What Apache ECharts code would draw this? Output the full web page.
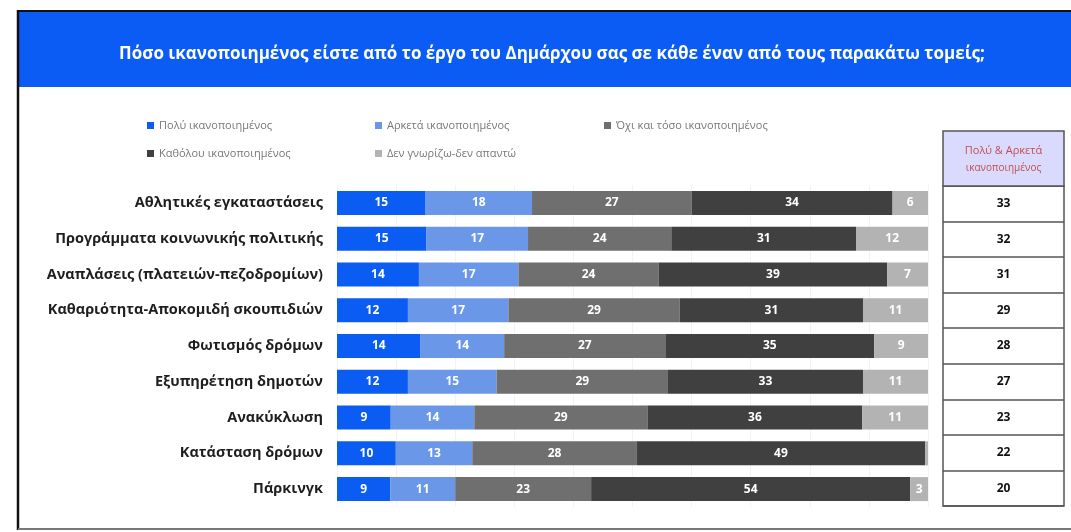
<!DOCTYPE html>
<html>
<head>
<meta charset="utf-8">
<script src="https://cdn.jsdelivr.net/npm/echarts@6/dist/echarts.min.js"></script>
<style>
html,body{margin:0;padding:0;background:#fff;}
#chart{width:1071px;height:532px;}
</style>
</head>
<body>
<div id="chart"></div>
<script>
const titleText = 'Πόσο ικανοποιημένος είστε από το έργο του Δημάρχου σας σε κάθε έναν από τους παρακάτω τομείς;';
const categories = [
  'Αθλητικές εγκαταστάσεις',
  'Προγράμματα κοινωνικής πολιτικής',
  'Αναπλάσεις (πλατειών-πεζοδρομίων)',
  'Καθαριότητα-Αποκομιδή σκουπιδιών',
  'Φωτισμός δρόμων',
  'Εξυπηρέτηση δημοτών',
  'Ανακύκλωση',
  'Κατάσταση δρόμων',
  'Πάρκινγκ'
];
const seriesNames = ['Πολύ ικανοποιημένος','Αρκετά ικανοποιημένος','Όχι και τόσο ικανοποιημένος','Καθόλου ικανοποιημένος','Δεν γνωρίζω-δεν απαντώ'];
const veryValues     = [15, 15, 14, 12, 14, 12, 9, 10, 9];
const quiteValues    = [18, 17, 17, 17, 14, 15, 14, 13, 11];
const notSoValues    = [27, 24, 24, 29, 27, 29, 29, 28, 23];
const notAtAllValues = [34, 31, 39, 31, 35, 33, 36, 49, 54];
const dkValues       = [6, 12, 7, 11, 9, 11, 11, 0.5, 3];
const combinedValues = [33, 32, 31, 29, 28, 27, 23, 22, 20];
const tableHeader = ['Πολύ & Αρκετά', 'ικανοποιημένος'];
const colors = ['#0B5CF2', '#6B97E9', '#6F6F6F', '#404040', '#B3B3B3'];

const chart = echarts.init(document.getElementById('chart'));
const FONT = 'Open Sans';
const seriesData = [veryValues, quiteValues, notSoValues, notAtAllValues, dkValues];
// rounded shares do not always add to 100; bars are drawn as shares of each row's total
const rowTotals = categories.map((c, r) => seriesData.reduce((s, arr) => s + arr[r], 0));

const barSeries = seriesData.map((arr, i) => ({
  name: seriesNames[i],
  type: 'bar',
  stack: 'total',
  xAxisIndex: 0, yAxisIndex: 0,
  barWidth: 24,
  data: arr.map((v, r) => v / rowTotals[r] * 100),
  itemStyle: {color: colors[i]},
  label: {
    show: true,
    position: 'inside',
    color: '#fff',
    fontFamily: FONT,
    fontWeight: 'bold',
    fontSize: 12,
    formatter: p => arr[p.dataIndex] >= 1 ? String(arr[p.dataIndex]) : ''
  },
  emphasis: {disabled: true}
}));

const legendPos = [[147,120],[375,120],[604,120],[147,148],[375,148]];
const legends = seriesNames.map((n, i) => ({
  data: [n],
  left: legendPos[i][0],
  top: legendPos[i][1],
  icon: 'rect',
  itemWidth: 7,
  itemHeight: 7,
  itemGap: 4,
  padding: 0,
  selectedMode: false,
  textStyle: {color: '#777', fontFamily: FONT, fontSize: 11}
}));

const option = {
  animation: false,
  backgroundColor: '#fff',
  color: colors,
  legend: legends,
  graphic: [
    {type: 'rect', shape: {x: 18, y: 11, width: 1060, height: 76}, style: {fill: '#0A5CF5'}, z: 1},
    {type: 'line', shape: {x1: 18, y1: 11, x2: 1071, y2: 11}, style: {stroke: '#111', lineWidth: 2}, z: 10},
    {type: 'line', shape: {x1: 18, y1: 10, x2: 18, y2: 530}, style: {stroke: '#111', lineWidth: 2.5}, z: 10},
    {type: 'line', shape: {x1: 18, y1: 529, x2: 1071, y2: 529}, style: {stroke: '#777', lineWidth: 2}, z: 10},
    {type: 'text', x: 552, y: 54, style: {text: titleText, fill: '#fff', font: 'bold 17px "Open Sans"', textAlign: 'center', textVerticalAlign: 'middle'}, z: 2},
    {type: 'rect', shape: {x: 943, y: 131, width: 121, height: 55}, style: {fill: '#DADAFF', stroke: '#555', lineWidth: 1.5}, z: 5},
    {type: 'text', x: 1003.5, y: 151, style: {text: tableHeader[0], fill: '#C0504D', font: '11px "Open Sans"', textAlign: 'center', textVerticalAlign: 'middle'}, z: 6},
    {type: 'text', x: 1003.5, y: 168, style: {text: tableHeader[1], fill: '#C0504D', font: '10px "Open Sans"', textAlign: 'center', textVerticalAlign: 'middle'}, z: 6}
  ],
  grid: [
    {left: 337, right: 143, top: 185, bottom: 25},
    {left: 943, right: 7, top: 186, bottom: 26, show: true, borderColor: '#555', borderWidth: 1.5, backgroundColor: '#fff'}
  ],
  xAxis: [
    {gridIndex: 0, type: 'value', min: 0, max: 100, interval: 10,
      axisLabel: {show: false}, axisLine: {show: false}, axisTick: {show: false},
      splitLine: {show: true, lineStyle: {color: '#F3F3F3', width: 1}}},
    {gridIndex: 1, type: 'value', min: 0, max: 1, show: false}
  ],
  yAxis: [
    {gridIndex: 0, type: 'category', data: categories, inverse: true,
      axisLine: {show: false}, axisTick: {show: false},
      axisLabel: {color: '#1E1E1E', fontFamily: FONT, fontWeight: 'bold', fontSize: 14.5, margin: 14}},
    {gridIndex: 1, type: 'category', data: categories, inverse: true,
      axisLine: {show: false}, axisTick: {show: false}, axisLabel: {show: false},
      splitLine: {show: true, lineStyle: {color: '#555', width: 1.5}}}
  ],
  series: barSeries.concat([{
    name: 'table',
    type: 'bar',
    xAxisIndex: 1, yAxisIndex: 1,
    barCategoryGap: 0,
    data: combinedValues.map(v => 1),
    itemStyle: {color: 'rgba(0,0,0,0)'},
    label: {show: true, position: 'inside', color: '#111', fontFamily: FONT, fontWeight: 'bold', fontSize: 12,
      formatter: p => String(combinedValues[p.dataIndex])},
    emphasis: {disabled: true},
    silent: true
  }])
};
chart.setOption(option);
</script>
</body>
</html>
